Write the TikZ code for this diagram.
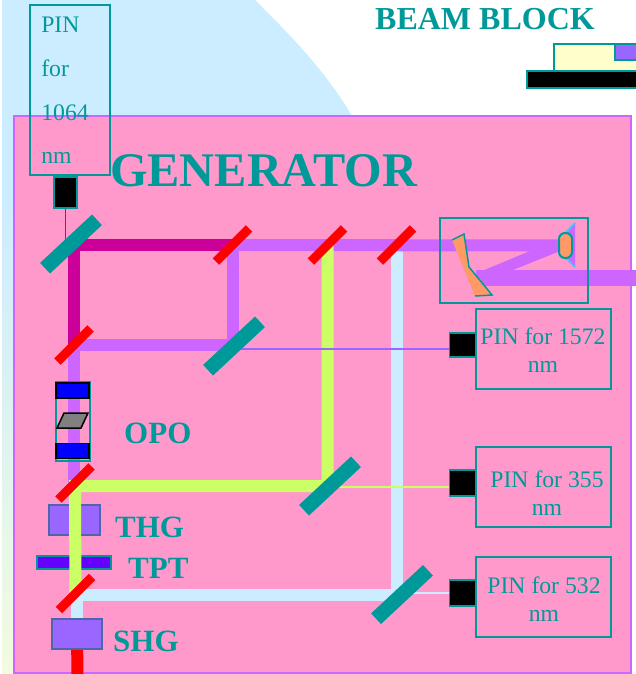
\documentclass[tikz,border=0pt]{standalone}
\usepackage{fontspec}
\setmainfont{Liberation Serif}
\usetikzlibrary{arrows.meta,positioning}
\definecolor{tealc}{HTML}{009999}
\definecolor{genpink}{HTML}{FF99CC}
\definecolor{violetb}{HTML}{CC66FF}
\definecolor{magentab}{HTML}{CC0099}
\definecolor{greenb}{HTML}{CCFF66}
\definecolor{blueb}{HTML}{CCECFF}
\definecolor{palel}{HTML}{F2FBDF}
\definecolor{crystal}{HTML}{9966FF}
\definecolor{crystaledge}{HTML}{4D66AA}
\definecolor{tptfill}{HTML}{6600FF}
\definecolor{wedgec}{HTML}{FF9966}
\definecolor{tipc}{HTML}{33CCFF}
\definecolor{blockyellow}{HTML}{FFFFCC}
\pgfdeclarelayer{back}
\pgfdeclarelayer{beams}
\pgfsetlayers{back,beams,main}
\tikzset{
  splitter/.style={fill=tealc,minimum width=71pt,minimum height=14.5pt,inner sep=0pt,rotate=43},
  redmirror/.style={fill=red,minimum width=47pt,minimum height=9pt,inner sep=0pt,rotate=45},
  detector/.style={draw=tealc,line width=1.5pt,fill=black,inner sep=0pt},
  pinbox/.style={draw=tealc,line width=1.5pt,minimum width=135pt,minimum height=80pt,inner sep=0pt},
  pintext/.style={text=tealc,align=center,font=\fontsize{23.7}{28}\selectfont,inner sep=0pt},
  heading/.style={text=tealc,font=\fontsize{31}{31}\selectfont\bfseries,inner sep=0pt,anchor=base west},
  crystalbox/.style={draw=crystaledge,line width=1.5pt,fill=crystal,minimum width=50pt,minimum height=30pt,inner sep=0pt},
  beam/.style={line width=12pt},
  thinbeam/.style={line width=1.5pt},
  opomirror/.style={draw=black,line width=1.5pt,fill=blue,minimum width=33pt,minimum height=15pt,inner sep=0pt}
}
\begin{document}
\begin{tikzpicture}[x=1pt,y=-1pt]
\useasboundingbox (0,0) rectangle (635,674);
\node[splitter] (split_a) at (71,244) {};
\node[splitter] (split_b) at (234,346) {};
\node[splitter] (split_c) at (330,486) {};
\node[splitter] (split_d) at (402,594.5) {};
\node[redmirror] (red_a) at (232.5,245) {};
\node[redmirror] (red_b) at (327.5,245) {};
\node[redmirror] (red_c) at (396.5,245) {};
\node[redmirror] (red_d) at (74,345) {};
\node[redmirror] (red_e) at (75,483) {};
\node[redmirror] (red_f) at (75.5,593.5) {};
\node[detector,minimum width=23pt,minimum height=31pt] (det_top) at (65.5,192.5) {};
\node[detector,minimum width=26pt,minimum height=24pt] (det_a) at (462.5,345) {};
\node[detector,minimum width=26pt,minimum height=26pt] (det_b) at (462.5,483) {};
\node[detector,minimum width=26pt,minimum height=26pt] (det_c) at (462.5,593) {};
\node[draw=tealc,line width=1.5pt,minimum width=80pt,minimum height=170pt,inner sep=0pt] (pin_top) at (70,90) {};
\node[pinbox] (pin_a) at (543.5,349) {};
\node[pinbox] (pin_b) at (543.5,487) {};
\node[pinbox] (pin_c) at (543.5,597) {};
\node[pintext,font=\fontsize{23.7}{43.7}\selectfont,align=left] (pin_top_txt) at (65,90.5) {PIN\\for\\1064\\nm};
\node[pintext] (pin_a_txt) at (543,350.5) {PIN for 1572\\nm};
\node[pintext] (pin_b_txt) at (547,493) {PIN for 355\\nm};
\node[pintext] (pin_c_txt) at (544,599) {PIN for 532\\nm};
\node[heading,font=\fontsize{48.3}{49}\selectfont\bfseries] (gen_lbl) at (110,186) {GENERATOR};
\node[heading,font=\fontsize{32}{33}\selectfont\bfseries] (block_lbl) at (375,30) {BEAM BLOCK};
\node[heading] (opo_lbl) at (124,443) {OPO};
\node[heading] (thg_lbl) at (115,537) {THG};
\node[heading] (tpt_lbl) at (128,578) {TPT};
\node[heading] (shg_lbl) at (113,651) {SHG};
\node[crystalbox] (shg) at (77,634) {};
\node[draw=tealc,line width=1.5pt,minimum width=34pt,minimum height=79pt,inner sep=0pt] (opo) at (73,421.5) {};
\node[opomirror] (opo_a) at (72.5,390.5) {};
\node[opomirror] (opo_b) at (72.5,451) {};
\draw[black,line width=1.5pt,fill=gray] (57,428)--(64,413)--(88,413)--(81,428)--cycle;
\node[draw=tealc,line width=1.5pt,minimum width=148pt,minimum height=85pt,inner sep=0pt] (comp) at (514,260.5) {};
\fill[wedgec] (452,240)--(464,234)--(469,267)--(492,295)--(475,296)--cycle;
\draw[tealc,line width=1.5pt] (452,240)--(464,234)--(469,267)--(492,295)--(475,296);
\draw[tipc,line width=1.5pt] (565,233)--(575,223);
\draw[tipc,line width=1.5pt] (565,257)--(575,267);
\node[draw=tealc,line width=2pt,fill=wedgec,rounded corners=6pt,minimum width=13pt,minimum height=25pt,inner sep=0pt] (lens) at (565.5,245.5) {};
\node[draw=tealc,line width=1.5pt,fill=black,minimum width=110pt,minimum height=17pt,inner sep=0pt] (block_base) at (582,79.5) {};
\node[draw=tealc,line width=1.5pt,fill=blockyellow,minimum width=85pt,minimum height=27pt,inner sep=0pt] (block_top) at (596.5,57.5) {};
\node[draw=tealc,line width=1.5pt,fill=crystal,minimum width=24pt,minimum height=16pt,inner sep=0pt] (block_in) at (627,52) {};
\coordinate (exit_red) at (77.5,676);
\coordinate (exit_out) at (637,278);
\coordinate (out_start) at (476,278);
\begin{pgfonlayer}{back}
\fill[blueb] (2,0)--(255,0) .. controls (290,35) and (325,70) .. (352,116)--(352,300)--(2,300)--cycle;
\shade[top color=blueb,bottom color=palel] (2,200) rectangle (14,674);
\node[draw=violetb,line width=1.8pt,fill=genpink,minimum width=617pt,minimum height=556.7pt,inner sep=0pt] (gen) at (322.5,394.7) {};
\node[crystalbox,minimum width=51pt] (thg) at (74.5,520) {};
\node[draw=tealc,line width=1.5pt,fill=tptfill,minimum width=74pt,minimum height=13pt,inner sep=0pt] (tpt) at (74,562.5) {};
\end{pgfonlayer}
\begin{pgfonlayer}{beams}
\draw[beam,blueb] (red_c.center)--(red_c.center |- split_d.center)--(shg.center |- split_d.center)--(shg.center);
\draw[beam,red] (shg.center)--(exit_red);
\draw[beam,violetb] (red_a.center)--(lens.center);
\draw[beam,violetb] (red_a.center)|-(red_d.center)--(red_d.center |- red_e.center);
\draw[beam,magentab] (red_d.center)|-(red_a.center);
\draw[beam,greenb] (red_b.center)--(red_b.center |- split_c.center)--(red_e.center |- split_c.center)--(red_f.center);
\fill[violetb] (482,271)--(530,251)--(560,251)--(513,270)--cycle;
\fill[violetb] (575,223)--(575,267)--(558,245)--cycle;
\draw[line width=16pt,violetb] (out_start)--(exit_out);
\draw[thinbeam,magentab] (det_top.center)--(det_top.center |- split_a.center);
\draw[thinbeam,crystal] ([yshift=-4pt]det_a.center)--([yshift=-3pt]split_b.center);
\draw[thinbeam,greenb] ([yshift=-4pt]det_b.center)--([yshift=-1pt]split_c.center);
\draw[thinbeam,blueb] (det_c.center)--(split_d.center |- det_c.center);
\end{pgfonlayer}
\end{tikzpicture}
\end{document}
